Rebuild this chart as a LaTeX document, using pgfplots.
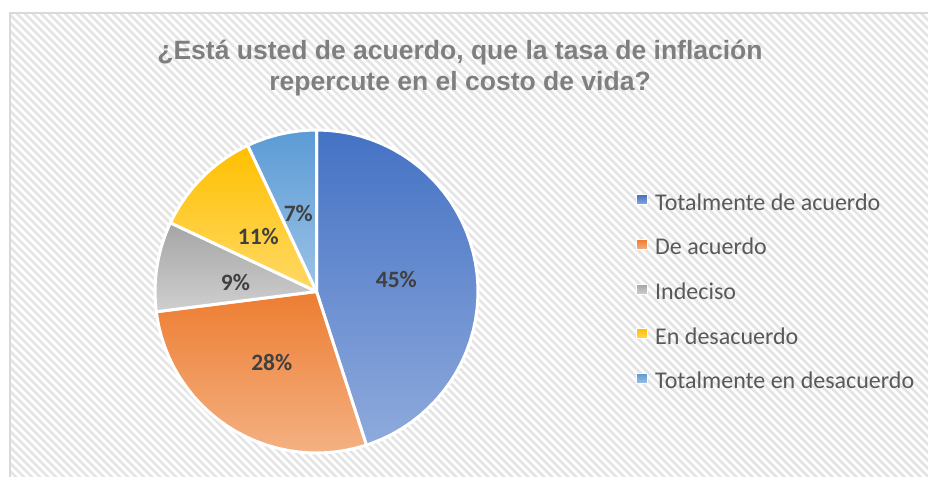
\documentclass[border=0pt]{standalone}
\usepackage{pgfplots}
\pgfplotsset{compat=1.18}
\usepgfplotslibrary{polar}
\usetikzlibrary{patterns.meta}
\usepackage{fontspec}
\setmainfont{Carlito}
\newfontfamily\arialfont{Liberation Sans}
\definecolor{cAtop}{HTML}{4472C4}\definecolor{cAbot}{HTML}{8FAADC}
\definecolor{cBtop}{HTML}{ED7D31}\definecolor{cBbot}{HTML}{F4B183}
\definecolor{cCtop}{HTML}{A5A5A5}\definecolor{cCbot}{HTML}{CFCFCF}
\definecolor{cDtop}{HTML}{FFC000}\definecolor{cDbot}{HTML}{FFD966}
\definecolor{cEtop}{HTML}{5B9BD5}\definecolor{cEbot}{HTML}{9DC3E6}
\definecolor{titlegray}{HTML}{7F7F7F}
\definecolor{leggray}{HTML}{595959}
\definecolor{labgray}{HTML}{404040}
\definecolor{stripe}{HTML}{E4E4E4}
\definecolor{frame}{HTML}{D9D9D9}
\begin{document}
\begin{tikzpicture}
\useasboundingbox (0,0) rectangle (928bp,477bp);
\begin{axis}[at={(0,0)}, anchor=south west, scale only axis,
  width=928bp, height=477bp, xmin=0, xmax=928, ymin=0, ymax=477,
  hide axis, clip=false,
  legend image code/.code={\draw[#1] (0bp,-0.7bp) rectangle (10.5bp,9.3bp); \path (18bp,0bp);},
  legend cell align=left,
  legend style={at={(636/928,284/477)}, anchor=north west, draw=none, fill=none,
    inner sep=0pt, row sep=22.7bp, column sep=0pt,
    font=\fontsize{24bp}{28bp}\selectfont\color{leggray},
    nodes={inner sep=0pt, text height=17bp, text depth=5bp}},
]
\fill[white] (axis cs:0,0) rectangle (axis cs:928,477);
\fill[pattern={Lines[angle=-45, distance=5.66bp, line width=2.6bp]}, pattern color=stripe]
  (axis cs:10,0) rectangle (axis cs:928,464);
\draw[frame, line width=1.5bp] (axis cs:10,0) -- (axis cs:10,464) -- (axis cs:928,464);
\node[anchor=base, text=titlegray, font=\arialfont\bfseries\fontsize{26.5bp}{32bp}\selectfont]
  at (axis cs:460,417) {¿Está usted de acuerdo, que la tasa de inflación};
\node[anchor=base, text=titlegray, font=\arialfont\bfseries\fontsize{26.5bp}{32bp}\selectfont]
  at (axis cs:460,386) {repercute en el costo de vida?};
\addlegendimage{draw=white, line width=1bp, top color=cAtop, bottom color=cAbot}
\addlegendentry{Totalmente de acuerdo}
\addlegendimage{draw=white, line width=1bp, top color=cBtop, bottom color=cBbot}
\addlegendentry{De acuerdo}
\addlegendimage{draw=white, line width=1bp, top color=cCtop, bottom color=cCbot}
\addlegendentry{Indeciso}
\addlegendimage{draw=white, line width=1bp, top color=cDtop, bottom color=cDbot}
\addlegendentry{En desacuerdo}
\addlegendimage{draw=white, line width=1bp, top color=cEtop, bottom color=cEbot}
\addlegendentry{Totalmente en desacuerdo}
\end{axis}
\begin{polaraxis}[at={(316.5bp,185.5bp)}, anchor=center, scale only axis,
  width=323bp, height=323bp, xmin=0, xmax=360, ymin=0, ymax=1,
  hide axis, clip=false, xtick=\empty, ytick=\empty]
% Totalmente de acuerdo 45%
\addplot[draw=white, line width=3bp, line join=round, top color=cAtop, bottom color=cAbot]
 coordinates {(0,0) (90,1) (86,1) (82,1) (78,1) (74,1) (70,1) (66,1) (62,1) (58,1) (54,1) (50,1) (46,1) (42,1) (38,1) (34,1) (30,1) (26,1) (22,1) (18,1) (14,1) (10,1) (6,1) (2,1) (-2,1) (-6,1) (-10,1) (-14,1) (-18,1) (-22,1) (-26,1) (-30,1) (-34,1) (-38,1) (-42,1) (-46,1) (-50,1) (-54,1) (-58,1) (-62,1) (-66,1) (-70,1) (-72,1)} -- cycle;
% De acuerdo 28%
\addplot[draw=white, line width=3bp, line join=round, top color=cBtop, bottom color=cBbot]
 coordinates {(0,0) (-72,1) (-76,1) (-80,1) (-84,1) (-88,1) (-92,1) (-96,1) (-100,1) (-104,1) (-108,1) (-112,1) (-116,1) (-120,1) (-124,1) (-128,1) (-132,1) (-136,1) (-140,1) (-144,1) (-148,1) (-152,1) (-156,1) (-160,1) (-164,1) (-168,1) (-172,1) (-172.8,1)} -- cycle;
% Indeciso 9%
\addplot[draw=white, line width=3bp, line join=round, top color=cCtop, bottom color=cCbot]
 coordinates {(0,0) (-172.8,1) (-176,1) (-180,1) (-184,1) (-188,1) (-192,1) (-196,1) (-200,1) (-204,1) (-205.2,1)} -- cycle;
% En desacuerdo 11%
\addplot[draw=white, line width=3bp, line join=round, top color=cDtop, bottom color=cDbot]
 coordinates {(0,0) (-205.2,1) (-208,1) (-212,1) (-216,1) (-220,1) (-224,1) (-228,1) (-232,1) (-236,1) (-240,1) (-244,1) (-244.8,1)} -- cycle;
% Totalmente en desacuerdo 7%
\addplot[draw=white, line width=3bp, line join=round, top color=cEtop, bottom color=cEbot]
 coordinates {(0,0) (-244.8,1) (-248,1) (-252,1) (-256,1) (-260,1) (-264,1) (-268,1) (-270,1)} -- cycle;
\begin{scope}[every node/.style={text=labgray, font=\bfseries\fontsize{23.5bp}{27bp}\selectfont}]
\node at (axis cs:8.5,0.50) {45\%};
\node at (axis cs:-122.2,0.52) {28\%};
\node at (axis cs:173.6,0.505) {9\%};
\node at (axis cs:136.7,0.495) {11\%};
\node at (axis cs:103.1,0.497) {7\%};
\end{scope}
\end{polaraxis}
\end{tikzpicture}
\end{document}
